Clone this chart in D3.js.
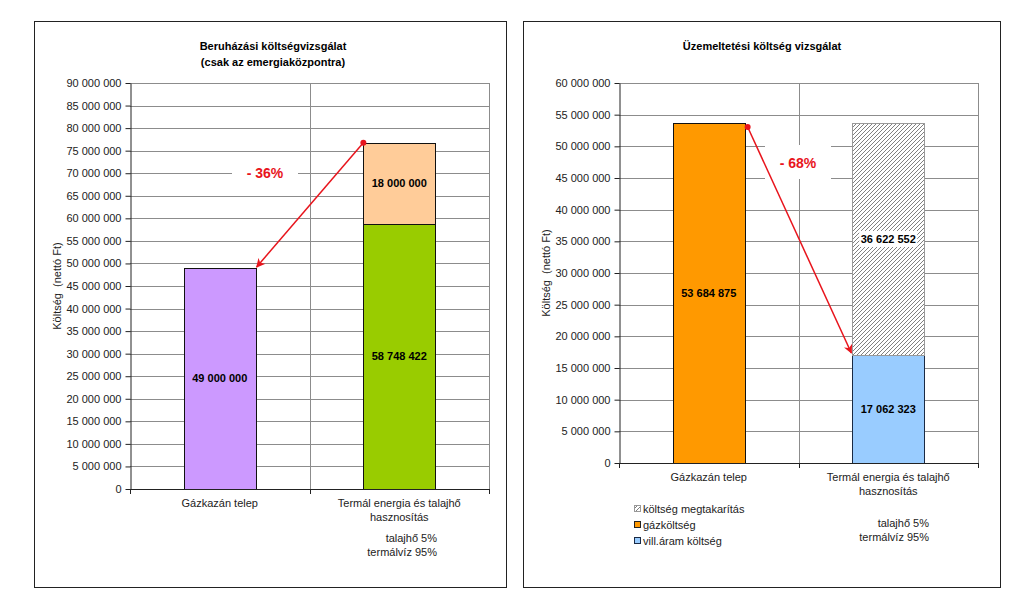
<!DOCTYPE html>
<html><head><meta charset="utf-8">
<script src="https://cdn.jsdelivr.net/npm/d3@7"></script>
<style>
html,body{margin:0;padding:0;background:#fff;}
svg{display:block;font-family:"Liberation Sans",Arial,sans-serif;}
</style></head>
<body>
<svg id="chart" width="1023" height="591"></svg>
<script>
// ---------- DATA ----------
const categories = ["Gázkazán telep", "Termál energia és talajhő|hasznosítás"];
// left chart: investment cost
const leftTitle = ["Beruházási költségvizsgálat", "(csak az emergiaközpontra)"];
const leftGas = [49000000, 0];
const leftThermal = [0, 58748422];
const leftGround = [0, 18000000];
const leftTicks = d3.range(0, 90000001, 5000000);
const leftPct = "- 36%";
// right chart: operating cost
const rightTitle = ["Üzemeltetési költség vizsgálat"];
const rightGas = [53684875, 0];
const rightElec = [0, 17062323];
const rightSaving = [0, 36622552];
const rightTicks = d3.range(0, 60000001, 5000000);
const rightPct = "- 68%";
const legendLabels = ["költség megtakarítás", "gázköltség", "vill.áram költség"];
const noteLines = ["talajhő 5%", "termálvíz 95%"];
const yTitle = "Költség  (nettó Ft)";

// ---------- DRAW ----------
const svg = d3.select("#chart");
const fmt = v => d3.format(",")(v).replace(/,/g, " ");
const defs = svg.append("defs");
const pat = defs.append("pattern").attr("id", "hatch").attr("patternUnits", "userSpaceOnUse")
  .attr("width", 4).attr("height", 4);
pat.append("rect").attr("width", 4).attr("height", 4).attr("fill", "#fff");
pat.append("path").attr("d", "M-1,1 l2,-2 M0,4 l4,-4 M3,5 l2,-2").attr("stroke", "#808080").attr("stroke-width", 1);
defs.append("marker").attr("id", "arr").attr("viewBox", "0 0 10 10").attr("refX", 9).attr("refY", 5)
  .attr("markerWidth", 9).attr("markerHeight", 9).attr("markerUnits", "userSpaceOnUse").attr("orient", "auto")
  .append("path").attr("d", "M0,0 L10,5 L0,10 L3,5 Z").attr("fill", "#e8141c");

function panel(opt) {
  const g = svg.append("g");
  g.append("rect").attr("x", opt.box[0] + 0.5).attr("y", opt.box[1] + 0.5)
    .attr("width", opt.box[2]).attr("height", opt.box[3])
    .attr("fill", "#fff").attr("stroke", "#222").attr("stroke-width", 1);
  opt.title.forEach((t, i) => g.append("text").attr("x", opt.titleX).attr("y", 50 + i * 16)
    .attr("text-anchor", "middle").attr("font-size", 11).attr("font-weight", "bold").text(t));

  const y = d3.scaleLinear().domain([0, opt.max]).range([opt.yr[0], opt.yr[1]]);
  const x = d3.scaleBand().domain(categories).range(opt.xr).paddingInner(0.6).paddingOuter(0.3);
  const step = x.step();
  // grid
  g.append("g").selectAll("line").data(opt.ticks.slice(1)).join("line")
    .attr("x1", opt.xr[0]).attr("x2", opt.xr[1])
    .attr("y1", d => Math.round(y(d)) + 0.5).attr("y2", d => Math.round(y(d)) + 0.5)
    .attr("stroke", "#8c8c8c").attr("stroke-width", 1);
  [opt.xr[0] + step, opt.xr[1]].forEach(xx => g.append("line")
    .attr("x1", Math.round(xx) + 0.5).attr("x2", Math.round(xx) + 0.5)
    .attr("y1", y(opt.max)).attr("y2", y(0)).attr("stroke", "#8c8c8c"));

  // bars
  opt.stacks.forEach(s => {
    let base = s.base;
    g.append("g").selectAll("rect").data(categories.filter((c, i) => s.vals[i] > 0)).join("rect")
      .attr("x", c => Math.round(x(c)) + 0.5)
      .attr("y", c => { const i = categories.indexOf(c); return Math.round(y((base ? base[i] : 0) + s.vals[i])) + 0.5; })
      .attr("width", Math.round(x.bandwidth()))
      .attr("height", c => { const i = categories.indexOf(c); const b = base ? base[i] : 0; return Math.round(y(b)) - Math.round(y(b + s.vals[i])); })
      .attr("fill", s.fill).attr("stroke", s.stroke).attr("stroke-width", 1);
    categories.forEach((c, i) => {
      if (s.vals[i] <= 0) return;
      const b = base ? base[i] : 0;
      const cy = (y(b) + y(b + s.vals[i])) / 2;
      if (s.labelBg) {
        g.append("rect").attr("x", x(c) + x.bandwidth() / 2 - 29).attr("y", cy - 8)
          .attr("width", 58).attr("height", 16).attr("fill", "#fff");
      }
      g.append("text").attr("x", x(c) + x.bandwidth() / 2).attr("y", cy + 4)
        .attr("text-anchor", "middle").attr("font-size", 11).attr("font-weight", "bold").text(fmt(s.vals[i]));
    });
  });

  // y axis
  const ya = g.append("g").attr("transform", `translate(${opt.xr[0] + 0.5},0)`)
    .call(d3.axisLeft(y).tickValues(opt.ticks).tickFormat(fmt).tickSizeInner(5).tickSizeOuter(0).tickPadding(4));
  ya.select(".domain").attr("stroke", "#222");
  ya.selectAll(".tick line").attr("stroke", "#222");
  ya.selectAll("text").attr("font-size", 11).attr("font-family", "Liberation Sans, Arial, sans-serif").attr("fill", "#222");
  // x axis
  g.append("line").attr("x1", opt.xr[0]).attr("x2", opt.xr[1]).attr("y1", Math.round(y(0)) + 0.5).attr("y2", Math.round(y(0)) + 0.5)
    .attr("stroke", "#222");
  [opt.xr[0], opt.xr[0] + step, opt.xr[1]].forEach(xx => g.append("line")
    .attr("x1", Math.round(xx) + 0.5).attr("x2", Math.round(xx) + 0.5)
    .attr("y1", y(0)).attr("y2", y(0) + 5).attr("stroke", "#222"));
  categories.forEach(c => {
    c.split("|").forEach((t, k) => g.append("text").attr("x", x(c) + x.bandwidth() / 2)
      .attr("y", y(0) + 18 + k * 14).attr("text-anchor", "middle").attr("font-size", 11).attr("fill", "#222").text(t));
  });
  noteLines.forEach((t, k) => g.append("text").attr("x", opt.noteX).attr("y", opt.noteY + k * 13.5)
    .attr("text-anchor", "end").attr("font-size", 11).attr("fill", "#222").text(t));
  // y title
  g.append("text").attr("transform", `translate(${opt.yTitleX},${(y(0) + y(opt.max)) / 2}) rotate(-90)`)
    .attr("text-anchor", "middle").attr("font-size", 11).attr("fill", "#222")
    .style("white-space", "pre").text(yTitle);

  // arrow
  const a = opt.arrow(x, y);
  g.append("rect").attr("x", a.lx - 33).attr("y", a.ly - 18).attr("width", 66).attr("height", 34).attr("fill", "#fff");
  g.append("text").attr("x", a.lx).attr("y", a.ly + 5).attr("text-anchor", "middle")
    .attr("font-size", 14).attr("font-weight", "bold").attr("fill", "#e8141c").text(opt.pct);
  g.append("line").attr("x1", a.x1).attr("y1", a.y1).attr("x2", a.x2).attr("y2", a.y2)
    .attr("stroke", "#e8141c").attr("stroke-width", 1.5).attr("marker-end", "url(#arr)");
  g.append("circle").attr("cx", a.x1).attr("cy", a.y1).attr("r", 3).attr("fill", "#e8141c");
  return {g, x, y};
}

panel({
  box: [34, 21, 472, 566], title: leftTitle, titleX: 273,
  max: 90000000, ticks: leftTicks, yr: [489, 83], xr: [130, 489],
  stacks: [
    {vals: leftGas, fill: "#cc99ff", stroke: "#111"},
    {vals: leftThermal, fill: "#99cc00", stroke: "#111"},
    {vals: leftGround, base: leftThermal, fill: "#ffcc99", stroke: "#111"}
  ],
  noteX: 437, noteY: 542, yTitleX: 61, pct: leftPct,
  arrow: (x, y) => ({
    x1: x(categories[1]), y1: y(leftThermal[1] + leftGround[1]),
    x2: x(categories[0]) + x.bandwidth() + 1, y2: y(leftGas[0]) - 1,
    lx: 265, ly: 173
  })
});

panel({
  box: [523, 21, 477, 566], title: rightTitle, titleX: 762,
  max: 60000000, ticks: rightTicks, yr: [463, 83], xr: [619, 978],
  stacks: [
    {vals: rightGas, fill: "#ff9900", stroke: "#111"},
    {vals: rightElec, fill: "#99ccff", stroke: "#1a2a44"},
    {vals: rightSaving, base: rightElec, fill: "url(#hatch)", stroke: "#999", labelBg: true}
  ],
  noteX: 929, noteY: 527, yTitleX: 550, pct: rightPct,
  arrow: (x, y) => ({
    x1: x(categories[0]) + x.bandwidth() + 3, y1: y(rightGas[0]) + 4,
    x2: x(categories[1]) - 1, y2: y(rightElec[1]) - 2,
    lx: 798, ly: 163
  })
});

// legend (right chart)
const lg = svg.append("g").attr("transform", "translate(634,505)");
const legendFills = [["url(#hatch)", "#999"], ["#ff9900", "#222"], ["#99ccff", "#1a2a44"]];
legendLabels.forEach((t, i) => {
  lg.append("rect").attr("x", 0.5).attr("y", i * 16 + 0.5).attr("width", 6).attr("height", 6)
    .attr("fill", legendFills[i][0]).attr("stroke", legendFills[i][1]);
  lg.append("text").attr("x", 9).attr("y", i * 16 + 7.5).attr("font-size", 11).attr("fill", "#222").text(t);
});
</script>
</body></html>
